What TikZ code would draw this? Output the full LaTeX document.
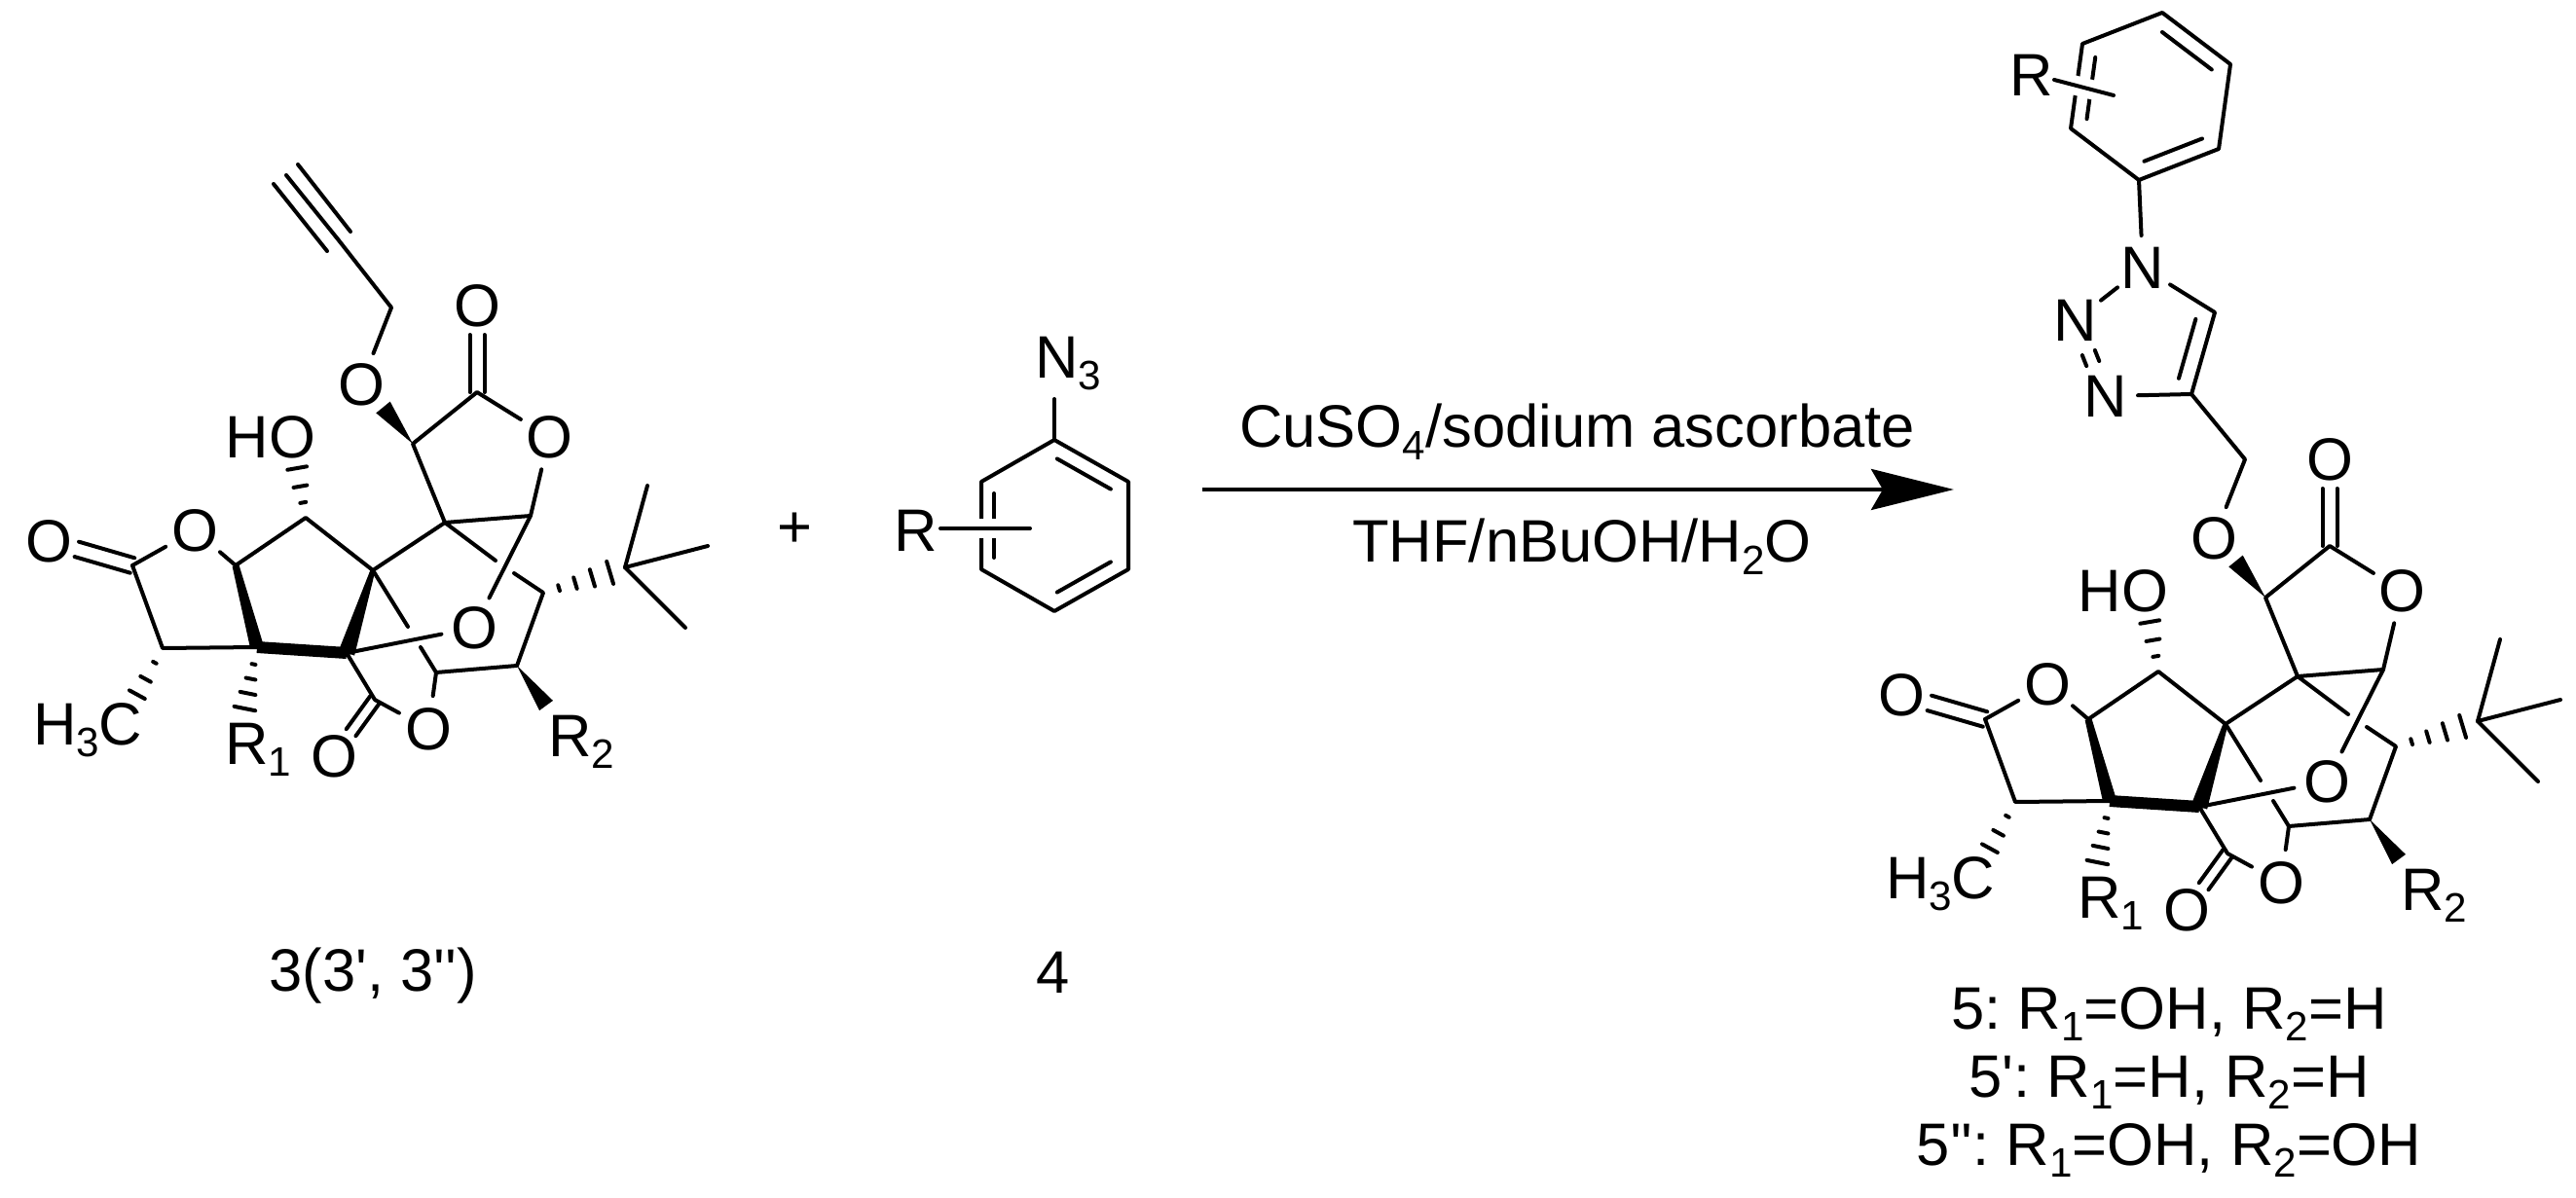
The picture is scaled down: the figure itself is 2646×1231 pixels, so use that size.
\documentclass[tikz,border=0pt]{standalone}
\usepackage{fontspec}
\usetikzlibrary{calc,arrows.meta}
\newfontfamily\arialfont{Liberation Sans}
\frenchspacing
\newcommand{\sub}[1]{\raisebox{-.12cm}{\fontsize{12}{12}\selectfont #1}}
\newcommand{\twinbond}[4][]{%
  \draw[shorten >=.3cm,#1] ($(#2)!#4!90:(#3)$) -- ($(#3)!#4!-90:(#2)$);
  \draw[shorten >=.3cm,#1] ($(#2)!#4!-90:(#3)$) -- ($(#3)!#4!90:(#2)$);}
\newcommand{\innerbond}[3]{%
  \draw[shorten <=.12cm,shorten >=.12cm] ($(#1)!#3!90:(#2)$) -- ($(#2)!#3!-90:(#1)$);}
\newcommand{\hashbond}[3]{%
  \foreach \t/\w in {#3} {\draw ($(#1)!\t!(#2)!\w!90:(#2)$) -- ($(#1)!\t!(#2)!\w!-90:(#2)$);}}
\newcommand{\wedgebond}[3]{%
  \fill (#1) -- ($(#2)!#3!90:(#1)$) -- ($(#2)!#3!-90:(#1)$) -- cycle;}
\newcommand{\boldbond}[4]{%
  \fill ($(#1)!#3!-90:(#2)$) -- ($(#2)!#4!90:(#1)$) -- ($(#2)!#4!-90:(#1)$) -- ($(#1)!#3!90:(#2)$) -- cycle;}
\tikzset{
  atom/.style={circle,inner sep=0pt,minimum size=.62cm},
  chem/.style={anchor=base west,inner sep=0pt},
  caption/.style={anchor=base,inner sep=0pt},
  bondgap/.style={white,line width=.2cm,line cap=butt},
  core/.pic={
    \coordinate (C1) at (136,581);  \coordinate (C2) at (242,581);
    \coordinate (C3) at (314,532);  \coordinate (C4) at (383,586);
    \coordinate (C5) at (356,671);  \coordinate (C6) at (264,665);
    \coordinate (C7) at (167,666);  \coordinate (C8) at (457,537);
    \coordinate (C9) at (545,530);  \coordinate (C10) at (424,456);
    \coordinate (C11) at (490,403); \coordinate (C12) at (558,609);
    \coordinate (C13) at (531,684); \coordinate (C14) at (448,691);
    \coordinate (C15) at (385,719); \coordinate (C16) at (642,583);
    \coordinate (S1) at (509,576);  \coordinate (S2) at (419,644);
    \coordinate (S3) at (528,589);  \coordinate (S4) at (432,665);
    \coordinate (M1) at (665,499);  \coordinate (M2) at (727,561);
    \coordinate (M3) at (704,645);
    \coordinate (hHO) at (305,480); \coordinate (hMe) at (138,719);
    \coordinate (hR1) at (251,730); \coordinate (hBu) at (628,588);
    \coordinate (wO) at (393.5,418.5); \coordinate (wR2) at (561,725);
    \node[atom] (O1) at (50,556) {O};
    \node[atom] (O2) at (200,545) {O};
    \node[atom] (O3) at (490,314) {O};
    \node[atom] (O4) at (564,449) {O};
    \node[atom] (O5) at (371,395) {O};
    \node[atom] (O6) at (487,645) {O};
    \node[atom] (O7) at (440,749) {O};
    \node[atom] (O8) at (343,777) {O};
    \node[caption] (HO) at (278,471) {HO};
    \node[chem] (Me) at (32,765) {H\sub{3}C};
    \node[chem] (R1) at (229,785) {R\sub{1}};
    \node[chem] (R2) at (561,777) {R\sub{2}};
    \draw (C1) -- (O2) -- (C2) -- (C3) -- (C4) -- (C8) -- (C9) -- (O4) -- (C11) -- (C10) -- (C8) -- (S1);
    \draw (C1) -- (C7) -- (C6);
    \draw (C4) -- (S2);
    \draw (C9) -- (O6) -- (C5) -- (C15) -- (O7) -- (C14) -- (C13) -- (C12) -- (S3);
    \draw (C14) -- (S4);
    \draw (C16) -- (M1);  \draw (C16) -- (M2);  \draw (C16) -- (M3);
    \twinbond{C1}{O1}{.08cm}
    \twinbond{C11}{O3}{.075cm}
    \twinbond{C15}{O8}{.06cm}
    \draw[line width=.12cm,line cap=butt] (C6) -- (C5);
    \boldbond{C2}{C6}{.035cm}{.07cm}
    \boldbond{C4}{C5}{.025cm}{.085cm}
    \wedgebond{C10}{wO}{.093cm}
    \wedgebond{C13}{wR2}{.086cm}
    \hashbond{C3}{hHO}{.3/.03cm,.62/.07cm,.98/.10cm}
    \hashbond{C7}{hMe}{.28/.02cm,.6/.06cm,.9/.09cm}
    \hashbond{C6}{hR1}{.27/.02cm,.5/.05cm,.73/.08cm,.97/.11cm}
    \hashbond{C12}{hBu}{.23/.03cm,.47/.06cm,.72/.09cm,.98/.12cm}
  }
}
\begin{document}
\begin{tikzpicture}[x=.01cm,y=-.01cm,line width=.04cm,line cap=round,line join=round,
    every node/.style={font=\fontsize{17.5}{20}\selectfont\arialfont}]
  \useasboundingbox (0,0) rectangle (2646,1231);

  % ------ left molecule -------------------
  \pic (L-) at (0,0) {core};
  \coordinate (Lch) at (402,316);
  \coordinate (Lyn) at (348,247);
  \coordinate (Ltop) at (294,180);
  \coordinate (Ly1) at (360,238);  \coordinate (Ly2) at (306,169);
  \coordinate (Ly3) at (336,258);  \coordinate (Ly4) at (281,189);
  \draw (L-O5) -- (Lch) -- (Lyn) -- (Ltop);
  \draw (Ly1) -- (Ly2);  \draw (Ly3) -- (Ly4);

  \node (plus) at (816,545) {+};

  % ------ azide -------------------
  \coordinate (b1) at (1083,452);  \coordinate (b2) at (1159,495);
  \coordinate (b3) at (1159,585);  \coordinate (b4) at (1083,628);
  \coordinate (b5) at (1008,585);  \coordinate (b6) at (1008,495);
  \coordinate (bN) at (1083,410);
  \coordinate (bR1) at (966,543);  \coordinate (bR2) at (1058,543);
  \draw (b1) -- (b2) -- (b3) -- (b4) -- (b5) -- (b6) -- cycle;
  \draw (b1) -- (bN);
  \innerbond{b2}{b1}{.155cm}
  \innerbond{b4}{b3}{.155cm}
  \innerbond{b6}{b5}{.13cm}
  \draw[bondgap] (bR1) -- (bR2);
  \draw (bR1) -- (bR2);
  \node[chem] (azR) at (916,567) {R};
  \node[chem] (azN) at (1061,389) {N\sub{3}};

  % ------ reaction arrow -------------------
  \coordinate (a1) at (1235,503);  \coordinate (a2) at (2007,503);
  \draw[-{Stealth[length=.85cm,width=.42cm,inset=.12cm]},line cap=butt] (a1) -- (a2);
  \node[caption] (cond1) at (1620,460) {CuSO\sub{4}/sodium ascorbate};
  \node[caption] (cond2) at (1625,578) {THF/nBuOH/H\sub{2}O};

  % ------ right molecule -------------------
  \pic (R-) at (1903,158) {core};
  \coordinate (p1) at (2221,13);   \coordinate (p2) at (2291,66);
  \coordinate (p3) at (2279,153);  \coordinate (p4) at (2197,185);
  \coordinate (p5) at (2127,132);  \coordinate (p6) at (2139,45);
  \coordinate (pR1) at (2110,82);  \coordinate (pR2) at (2171,98);
  \coordinate (t4) at (2251,405);  \coordinate (t5) at (2275,321);
  \coordinate (tch) at (2306,472);
  \node[atom] (N1) at (2201,275) {N};
  \node[atom] (N2) at (2132,329) {N};
  \node[atom] (N3) at (2163,407) {N};
  \draw (p1) -- (p2) -- (p3) -- (p4) -- (p5) -- (p6) -- cycle;
  \draw (p4) -- (N1) -- (t5) -- (t4) -- (N3);
  \draw (N1) -- (N2);
  \draw (t4) -- (tch) -- (R-O5);
  \twinbond[shorten <=.36cm,shorten >=.36cm]{N2}{N3}{.07cm}
  \innerbond{p2}{p1}{.16cm}
  \innerbond{p4}{p3}{.16cm}
  \innerbond{p6}{p5}{.15cm}
  \innerbond{t4}{t5}{.17cm}
  \draw[bondgap] (pR1) -- (pR2);
  \draw (pR1) -- (pR2);
  \node[chem] (phR) at (2062,99) {R};

  % ------ captions -------------------
  \node[caption] (lab3) at (383,1018) {3(3', 3'')};
  \node[caption] (lab4) at (1082,1020) {4};
  \node[caption] (lab5a) at (2228,1057) {5: R\sub{1}=OH, R\sub{2}=H};
  \node[caption] (lab5b) at (2228,1127) {5': R\sub{1}=H, R\sub{2}=H};
  \node[caption] (lab5c) at (2228,1197) {5'': R\sub{1}=OH, R\sub{2}=OH};
\end{tikzpicture}
\end{document}
